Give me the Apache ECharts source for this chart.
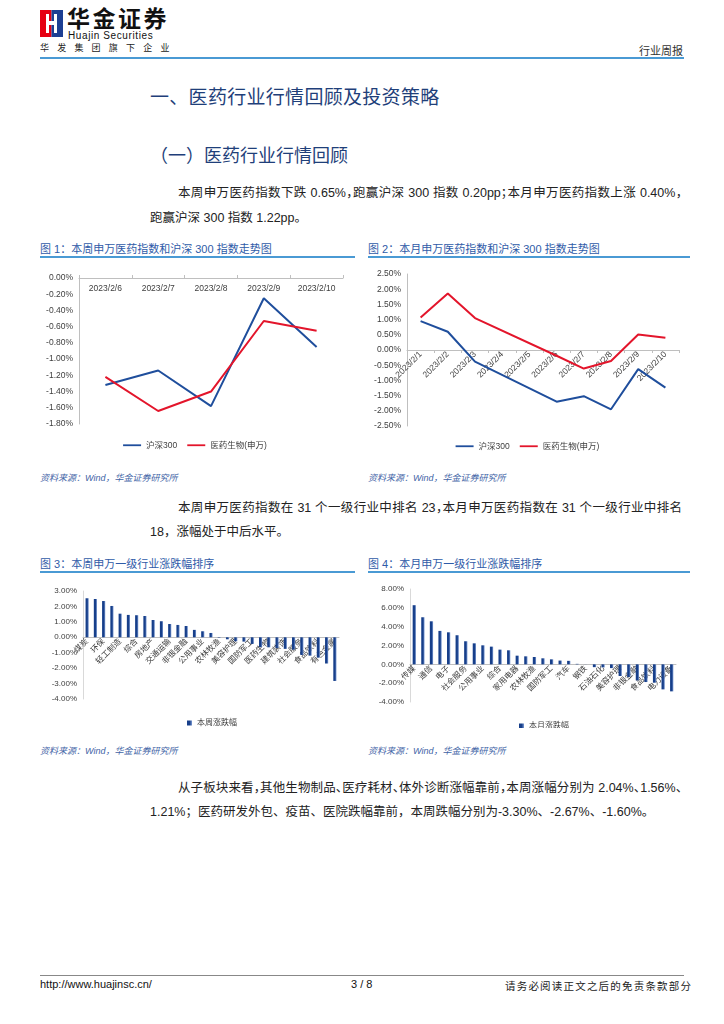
<!DOCTYPE html>
<html><head><meta charset="utf-8">
<script src="https://cdn.jsdelivr.net/npm/echarts@6/dist/echarts.min.js"></script>
<style>
html,body{margin:0;padding:0;background:#fff;}
#page{position:relative;width:724px;height:1024px;overflow:hidden;font-family:"Liberation Sans","Noto Sans CJK SC",sans-serif;color:#222;}
.abs{position:absolute;white-space:nowrap;}
.body{font-size:12.5px;line-height:16px;color:#222;}
.just{text-align:justify;text-align-last:justify;font-feature-settings:"halt";}
.cap{font-size:11px;color:#2f5ba8;}
.capline{position:absolute;height:2px;background:#4a9ad4;}
.src{font-size:9px;color:#3f64a6;font-style:italic;}
.chart{position:absolute;}
</style></head>
<body><div id="page">
<svg class="abs" style="left:40px;top:10px" width="23" height="27" viewBox="0 0 23 27">
<rect x="0" y="0" width="11.5" height="27" fill="#e60012"/>
<rect x="11.5" y="0" width="11.5" height="27" fill="#1d3f93"/>
<path d="M6 4 L9 4 L9 11 L14 11 L14 4 L17 4 L17 23 L14 23 L14 15 L9 15 L9 23 L6 23 Z" fill="#fff"/>
</svg>
<div class="abs" style="left:67px;top:6px;font-size:23px;line-height:23px;font-weight:bold;color:#111;letter-spacing:2.5px;font-family:'Noto Sans CJK SC';">华金证券</div>
<div class="abs" style="left:68px;top:31px;font-size:10px;line-height:10px;color:#111;letter-spacing:0.6px;">Huajin Securities</div>
<div class="abs" style="left:40px;top:43px;font-size:9px;line-height:10px;color:#222;letter-spacing:8.2px;font-family:'Noto Sans CJK SC';">华发集团旗下企业</div>
<div class="abs" style="left:639px;top:44px;font-size:11px;line-height:12px;color:#333;font-family:'Noto Sans CJK SC';">行业周报</div>
<div class="abs" style="left:40px;top:57px;width:644px;height:2px;background:#4a9ad4;"></div>

<div class="abs" style="left:150px;top:84px;font-size:19px;line-height:24px;color:#1f3f7a;font-family:'Noto Sans CJK SC';letter-spacing:0.3px;">一、医药行业行情回顾及投资策略</div>
<div class="abs" style="left:150px;top:142px;font-size:18px;line-height:24px;color:#1f3f7a;font-family:'Noto Sans CJK SC';">（一）医药行业行情回顾</div>

<div class="abs body just fit" style="left:178px;top:185px;width:504px;"><span>本周申万医药指数下跌 0.65%，跑赢沪深 300 指数 0.20pp；本月申万医药指数上涨 0.40%，</span></div>
<div class="abs body" style="left:150px;top:210px;">跑赢沪深 300 指数 1.22pp。</div>

<div class="abs cap" style="left:40px;top:240px;">图 1：本周申万医药指数和沪深 300 指数走势图</div>
<div class="capline" style="left:40px;top:256px;width:315px;"></div>
<div class="abs cap" style="left:368px;top:240px;">图 2：本月申万医药指数和沪深 300 指数走势图</div>
<div class="capline" style="left:368px;top:256px;width:322px;"></div>

<div id="c1" class="chart" style="left:30px;top:262px;width:330px;height:195px;"></div>
<div id="c2" class="chart" style="left:360px;top:265px;width:335px;height:190px;"></div>

<div class="abs src" style="left:40px;top:471px;">资料来源：Wind，华金证券研究所</div>
<div class="abs src" style="left:368px;top:471px;">资料来源：Wind，华金证券研究所</div>

<div class="abs body just fit" style="left:178px;top:500px;width:504px;"><span>本周申万医药指数在 31 个一级行业中排名 23，本月申万医药指数在 31 个一级行业中排名</span></div>
<div class="abs body" style="left:150px;top:524px;">18，涨幅处于中后水平。</div>

<div class="abs cap" style="left:40px;top:555px;">图 3：本周申万一级行业涨跌幅排序</div>
<div class="capline" style="left:40px;top:571px;width:315px;"></div>
<div class="abs cap" style="left:368px;top:555px;">图 4：本月申万一级行业涨跌幅排序</div>
<div class="capline" style="left:368px;top:571px;width:322px;"></div>

<div id="c3" class="chart" style="left:30px;top:583px;width:330px;height:145px;"></div>
<div id="c4" class="chart" style="left:360px;top:583px;width:335px;height:145px;"></div>

<div class="abs src" style="left:40px;top:744px;">资料来源：Wind，华金证券研究所</div>
<div class="abs src" style="left:368px;top:744px;">资料来源：Wind，华金证券研究所</div>

<div class="abs body just fit" style="left:178px;top:780px;width:504px;"><span>从子板块来看，其他生物制品、医疗耗材、体外诊断涨幅靠前，本周涨幅分别为 2.04%、1.56%、</span></div>
<div class="abs body" style="left:150px;top:804px;">1.21%；医药研发外包、疫苗、医院跌幅靠前，本周跌幅分别为-3.30%、-2.67%、-1.60%。</div>

<div class="abs" style="left:40px;top:975px;width:644px;height:1px;background:#888;"></div>
<div class="abs" style="left:40px;top:978px;font-size:11px;color:#111;">http://www.huajinsc.cn/</div>
<div class="abs" style="left:351px;top:978px;font-size:11px;color:#111;">3 / 8</div>
<div class="abs" style="left:505px;top:978px;font-size:10.5px;color:#222;letter-spacing:1.2px;font-family:'Noto Sans CJK SC';">请务必阅读正文之后的免责条款部分</div>
</div>
<script>
// ---- data ----
const weekDates = ['2023/2/6','2023/2/7','2023/2/8','2023/2/9','2023/2/10'];
const weekHS300 = [-1.32,-1.14,-1.58,-0.25,-0.85];
const weekPharma = [-1.22,-1.64,-1.40,-0.53,-0.65];

const monthDates = ['2023/2/1','2023/2/2','2023/2/3','2023/2/4','2023/2/5','2023/2/6','2023/2/7','2023/2/8','2023/2/9','2023/2/10'];
const monthHS300 = [0.95,0.60,-0.38,null,null,-1.70,-1.52,-1.95,-0.63,-1.24];
const monthPharma = [1.07,1.86,1.05,null,null,-0.19,-0.61,-0.36,0.51,0.40];

const weekIndustries = ['煤炭','通信','环保','计算机','轻工制造','建筑材料','综合','钢铁','房地产','基础化工','交通运输','银行','非银金融','商贸零售','公用事业','纺织服饰','农林牧渔','机械设备','美容护理','汽车','国防军工','家用电器','医药生物','传媒','建筑装饰','电子','社会服务','电力设备','食品饮料','石油石化','有色金属'];
const weekChange = [2.53,2.48,2.35,2.03,1.53,1.45,1.43,1.38,1.12,1.04,0.86,0.80,0.73,0.48,0.39,0.28,-0.03,-0.13,-0.26,-0.28,-0.43,-0.64,-0.65,-0.70,-0.75,-0.80,-1.15,-1.19,-1.32,-1.70,-2.83];

const monthIndustries = ['传媒','计算机','通信','机械设备','电子','建筑装饰','社会服务','基础化工','公用事业','轻工制造','综合','交通运输','家用电器','纺织服饰','农林牧渔','建筑材料','国防军工','医药生物','汽车','商贸零售','钢铁','环保','石油石化','煤炭','美容护理','房地产','非银金融','银行','食品饮料','有色金属','电力设备'];
const monthChange = [6.28,5.00,4.57,3.55,3.40,3.09,2.45,2.23,2.02,1.88,1.56,1.49,0.92,0.85,0.78,0.64,0.53,0.40,0.37,0.05,-0.01,-0.30,-0.33,-0.40,-1.24,-1.35,-1.70,-1.88,-1.95,-2.66,-2.87];

// fit justified lines: tighten letter spacing until natural width fits
document.querySelectorAll('.fit').forEach(d => {
  const s = d.querySelector('span');
  const target = d.clientWidth;
  let ls = 0;
  while (s.offsetWidth > target && ls > -2) { ls -= 0.05; s.style.letterSpacing = ls + 'px'; }
  d.style.letterSpacing = ls + 'px';
});

// ---- styles ----
const BLUE = '#1f4e9c', RED = '#e3152b';
const FONT = '"Liberation Sans","Noto Sans CJK SC",sans-serif';
const axisTxt = {color:'#404040', fontSize:8.5, fontFamily:FONT};
const pct = v => v.toFixed(2) + '%';
const lineLegendIcon = 'path://M0,0 L20,0 L20,2 L0,2 Z';

// offset (px) that moves a bottom x axis up to the value 0 line
function zeroOffset(h, grid, min, max){
  const gh = h - grid.top - grid.bottom;
  return -(gh * (0 - min) / (max - min));
}

function lineChart(el, h, cats, s1, s2, opts){
  const c = echarts.init(document.getElementById(el), null, {renderer:'canvas'});
  c.setOption({
    animation:false,
    textStyle:{fontFamily:FONT},
    grid: opts.grid,
    legend:{
      top: opts.legendTop, left:'center', itemWidth:18, itemHeight:2, itemGap:10,
      textStyle:{color:'#404040', fontSize:8.5, fontFamily:FONT},
      data:[{name:'沪深300', icon:lineLegendIcon},{name:'医药生物(申万)', icon:lineLegendIcon}]
    },
    xAxis:{
      type:'category', data:cats, boundaryGap:true,
      position: opts.xTop ? 'top' : 'bottom',
      offset: opts.xTop ? 0 : zeroOffset(h, opts.grid, opts.min, opts.max),
      axisLine: {onZero:false, lineStyle:{color:'#bfbfbf', width:1}},
      axisTick:{show:true, length:3, lineStyle:{color:'#bfbfbf'}},
      axisLabel: Object.assign({inside: !!opts.xTop, interval:0, rotate: opts.rotate||0, margin: opts.xTop?6:3}, axisTxt)
    },
    yAxis:{
      type:'value', min:opts.min, max:opts.max, interval:opts.interval,
      axisLine:{show:true, lineStyle:{color:'#bfbfbf'}},
      axisTick:{show:false},
      splitLine:{show:false},
      axisLabel: Object.assign({formatter:pct, margin:6}, axisTxt)
    },
    series:[
      {name:'沪深300', type:'line', data:s1, symbol:'none', connectNulls:true, lineStyle:{color:BLUE, width:2}, itemStyle:{color:BLUE}},
      {name:'医药生物(申万)', type:'line', data:s2, symbol:'none', connectNulls:true, lineStyle:{color:RED, width:2}, itemStyle:{color:RED}}
    ]
  });
}

function barChart(el, h, cats, vals, name, opts){
  const c = echarts.init(document.getElementById(el), null, {renderer:'canvas'});
  const grad = new echarts.graphic.LinearGradient(0,0,1,0,[
    {offset:0,color:'#173f8a'},{offset:0.55,color:'#173f8a'},{offset:1,color:'#7d9bd3'}]);
  c.setOption({
    animation:false,
    textStyle:{fontFamily:FONT},
    grid: opts.grid,
    legend:{
      top: opts.legendTop, left: opts.legendLeft, itemWidth:5, itemHeight:5,
      textStyle:{color:'#404040', fontSize:8, fontFamily:FONT},
      data:[{name:name, icon:'rect'}]
    },
    xAxis:{
      type:'category', data:cats,
      offset: zeroOffset(h, opts.grid, opts.min, opts.max),
      axisLine:{onZero:false, lineStyle:{color:'#bfbfbf'}},
      axisTick:{show:false},
      axisLabel: Object.assign({interval:1, rotate:45, margin:3}, axisTxt, {fontSize:8})
    },
    yAxis:{
      type:'value', min:opts.min, max:opts.max, interval:opts.interval,
      axisLine:{show:true, lineStyle:{color:'#d9d9d9'}},
      axisTick:{show:false},
      splitLine:{show:false},
      axisLabel: Object.assign({formatter:pct, margin:6}, axisTxt, {fontSize:8})
    },
    series:[{name:name, type:'bar', data:vals, barWidth:'38%', itemStyle:{color:grad}}]
  });
}

lineChart('c1', 195, weekDates, weekHS300, weekPharma, {
  grid:{left:49, right:17, top:16, bottom:33}, legendTop:174,
  min:-1.8, max:0, interval:0.2, xTop:true
});
lineChart('c2', 190, monthDates, monthHS300, monthPharma, {
  grid:{left:47, right:16, top:9, bottom:29}, legendTop:172,
  min:-2.5, max:2.5, interval:0.5, rotate:45
});
barChart('c3', 145, weekIndustries, weekChange, '本周涨跌幅', {
  grid:{left:53, right:21, top:8, bottom:29}, legendTop:131, legendLeft:152,
  min:-4, max:3, interval:1
});
barChart('c4', 145, monthIndustries, monthChange, '本月涨跌幅', {
  grid:{left:50, right:19, top:6, bottom:26}, legendTop:134, legendLeft:154,
  min:-4, max:8, interval:2
});
</script>
</body></html>
